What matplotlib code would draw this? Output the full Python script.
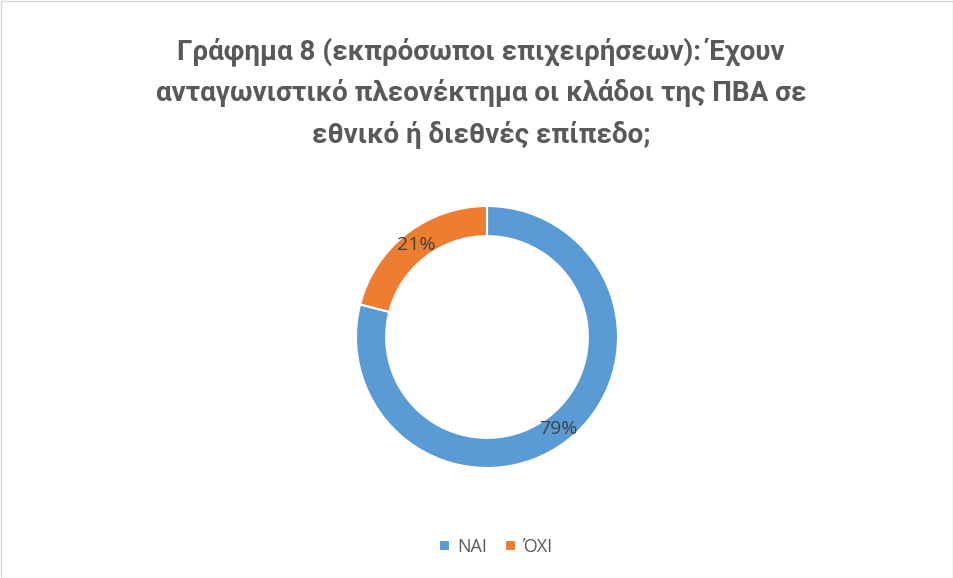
import numpy as np
import matplotlib.pyplot as plt
from matplotlib.patches import Rectangle

labels = ['ΝΑΙ', 'ΌΧΙ']
values = [79, 21]
colors = ['#5B9BD5', '#ED7D31']
title = 'Γράφημα 8 (εκπρόσωποι επιχειρήσεων): Έχουν\nανταγωνιστικό πλεονέκτημα οι κλάδοι της ΠΒΑ σε\nεθνικό ή διεθνές επίπεδο;'

W, H = 954, 578
fig = plt.figure(figsize=(W / 100, H / 100), dpi=100)

# donut centre and radius in pixels
cx, cy, r = 487, 337, 131
ax = fig.add_axes([(cx - r) / W, (H - cy - r) / H, 2 * r / W, 2 * r / H])
wedges, texts = ax.pie(values, colors=colors, startangle=90, counterclock=False,
                       radius=1, wedgeprops=dict(width=0.23, edgecolor='white', linewidth=1.5))
ax.set_xlim(-1, 1)
ax.set_ylim(-1, 1)
ax.set_aspect('equal')
ax.axis('off')

# percentage labels on the ring
for w, v in zip(wedges, values):
    ang = np.deg2rad((w.theta1 + w.theta2) / 2)
    rr = 0.885
    ax.text(rr * np.cos(ang), rr * np.sin(ang), f'{v}%', ha='center', va='center',
            fontsize=14, color='#404040', family='Open Sans')

fig.text(481 / W, 1 - 93 / H, title, ha='center', va='center', fontsize=20,
         color='#595959', fontweight='bold', family='Roboto', linespacing=1.6)

leg = fig.legend(wedges, labels, loc='center', bbox_to_anchor=(496 / W, 1 - 547 / H),
                 ncol=2, frameon=False, handlelength=0.6, handleheight=0.6,
                 handletextpad=0.4, columnspacing=1.0, labelcolor='#595959',
                 prop=dict(family='Open Sans', size=13))

fig.patches.append(Rectangle((0.5 / W, 0.5 / H), 1 - 1.5 / W, 1 - 1.5 / H, transform=fig.transFigure,
                             fill=False, edgecolor='#D9D9D9', linewidth=1))

fig.savefig('out.png', dpi=100, facecolor='white')
